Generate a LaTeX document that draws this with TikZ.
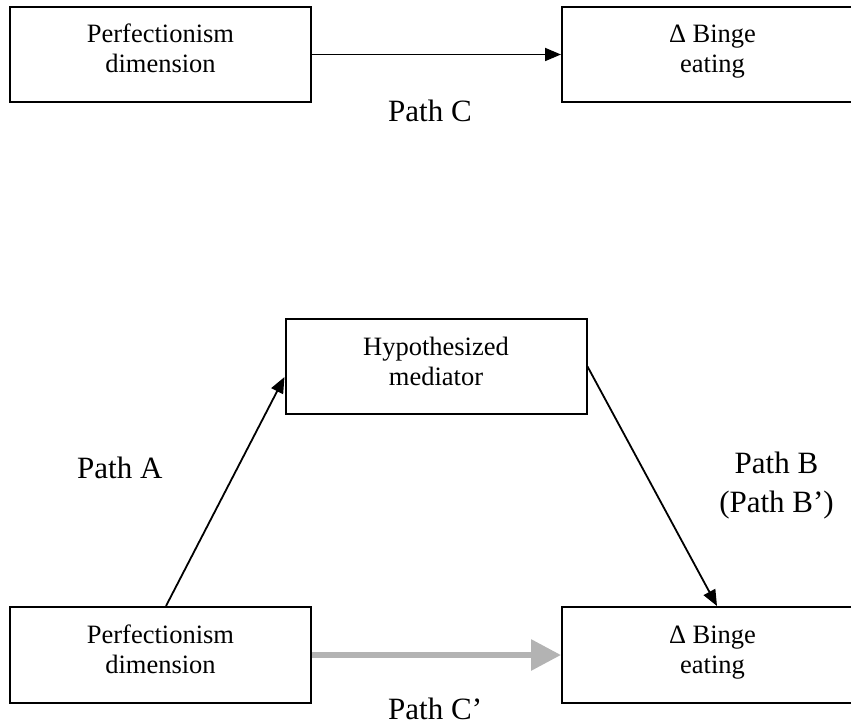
\documentclass[tikz,border=0pt]{standalone}
\usepackage{fontspec}
\setmainfont{Liberation Serif}
\usetikzlibrary{arrows.meta,calc}
\definecolor{cgray}{RGB}{179,179,179}

\begin{document}
\begin{tikzpicture}[x=1pt,y=-1pt,
box/.style={draw,line width=2pt,inner sep=0,minimum width=301pt,minimum height=95pt,
  align=center,font=\fontsize{26.5}{30}\selectfont,text height=48pt,text depth=11pt},
lbl/.style={font=\fontsize{31}{39}\selectfont,inner sep=0},
link/.style={line width=1.8pt,-{Triangle[length=16pt,width=13pt]}}]
\clip (0,0) rectangle (851,725);

% total effect
\node (perfa) [box] at (160.5,54.5) {Perfectionism\\dimension};
\node (bingea) [box] at (712.5,54.5) {Δ Binge\\eating};
\draw[link] (perfa) -- (bingea);
\node (pc) [lbl,anchor=base west] at (388,121) {Path C};

% mediation model
\node (med) [box] at (436,366.5) {Hypothesized\\mediator};
\node (perfb) [box,minimum height=96pt] at (160.5,655) {Perfectionism\\dimension};
\node (bingeb) [box,minimum height=96pt] at (712.5,655) {Δ Binge\\eating};
\draw[link] ([xshift=5.5pt]perfb.north) -- ([yshift=-10.5pt]med.west);
\draw[link] (med.east) -- ([xshift=4.5pt]bingeb.north);
\draw[line width=6pt,cgray,-{Triangle[length=30pt,width=30pt]}] (perfb) -- (bingeb);
\node (pa) [lbl,anchor=base west] at (77,478) {Path A};
\node (pb) [lbl,anchor=base,align=center] at (776.5,512) {Path B\\(Path B’)};
\node (pcc) [lbl,anchor=base west] at (388,719) {Path C’};
\end{tikzpicture}
\end{document}
